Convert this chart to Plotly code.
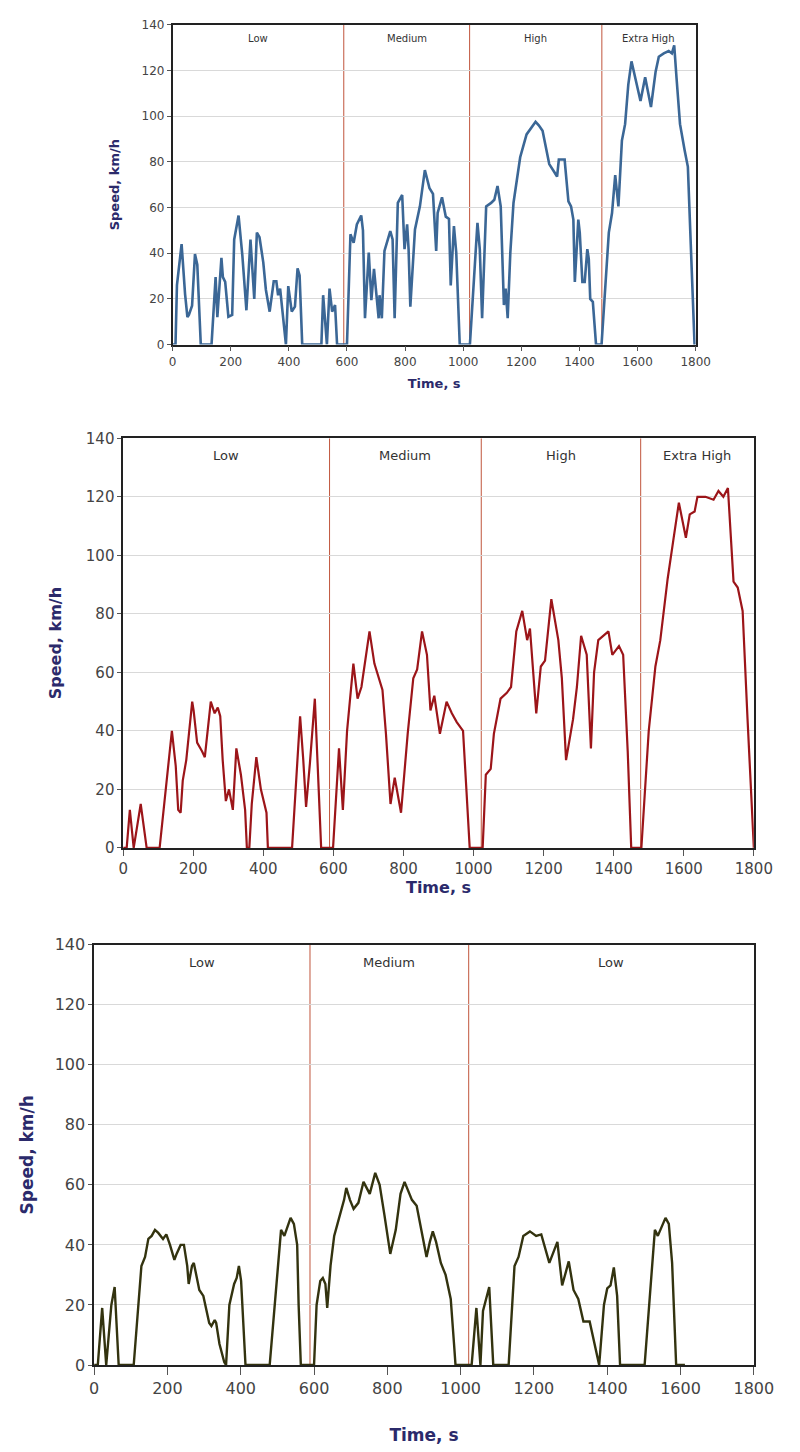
import plotly.graph_objects as go

# ---- Cycle 1 (blue): Low / Medium / High / Extra High ----
c1_time = [0, 10, 15, 31, 43, 51, 56, 67, 77, 85, 97, 134, 148, 154, 168, 173, 181, 192, 205,
           212, 227, 240, 254, 268, 281, 290, 299, 312, 321, 334, 348, 357, 363, 370, 377, 390,
           398, 410, 421, 430, 437, 446, 512, 518, 531, 540, 549, 559, 566, 600, 612, 623, 634,
           649, 655, 662, 675, 684, 693, 701, 709, 712, 720, 729, 749, 757, 764, 775, 790, 798,
           807, 812, 818, 834, 851, 868, 884, 896, 907, 912, 927, 940, 951, 957, 968, 976, 988,
           1023, 1049, 1057, 1065, 1079, 1096, 1107, 1118, 1129, 1140, 1146, 1153, 1162, 1173,
           1196, 1218, 1249, 1260, 1273, 1296, 1316, 1323, 1329, 1349, 1351, 1362, 1371, 1379,
           1384, 1396, 1401, 1410, 1418, 1427, 1432, 1437, 1446, 1457, 1476, 1501, 1512, 1523,
           1534, 1546, 1557, 1568, 1579, 1590, 1610, 1626, 1646, 1662, 1673, 1690, 1707, 1718,
           1726, 1734, 1746, 1762, 1773, 1784, 1796, 1800]
c1_speed = [0, 0, 26, 44, 22, 12, 13, 17, 39.6, 35, 0, 0, 29.5, 12, 38, 29.5, 27.4, 12.2, 13,
            46, 56.5, 39, 15, 46, 20, 49, 47, 36, 24, 14.4, 27.7, 27.7, 21.6, 24.5, 15.8, 0,
            25.6, 14.4, 16.6, 33.4, 30.3, 0, 0, 21.6, 0, 24.5, 14.4, 17.3, 0, 0, 48.3, 44.6, 52.6,
            56.5, 50, 11.5, 40.3, 19.4, 33.1, 21.6, 11.5, 21.6, 11.5, 41, 49.7, 46, 11.5, 62, 65.5,
            41.8, 52.6, 41.8, 16.6, 50.4, 60.5, 76.4, 68.4, 66, 41, 57.6, 64.5, 56, 55, 25.9, 51.9,
            40.3, 0, 0, 53.3, 41.8, 11.5, 60.5, 62, 63.4, 69.4, 60.5, 17.3, 24.5, 11.5, 40, 62,
            82, 92, 97.5, 96, 93.6, 79, 75, 73.5, 81, 81, 78, 62.7, 60.5, 54.7,
            27.4, 54.7, 49, 27.4, 27.4, 41.8, 37.5, 20, 18.7, 0, 0, 49, 57.6, 74.2,
            60.5, 89.3, 96.5, 113.8, 124, 118, 106.6, 117, 104, 119.5, 126, 127.5, 128.5, 127.5,
            131, 116.7, 96.5, 85, 77.8, 40.3, 0, 0]

# ---- Cycle 2 (red): Low / Medium / High / Extra High ----
c2_time = [0, 10, 19, 30, 50, 67, 104, 139, 150, 157, 164, 170, 180, 197, 201, 211, 225, 233,
           250, 261, 270, 277, 284, 293, 302, 313, 323, 336, 348, 353, 360, 367, 380, 393, 409,
           413, 482, 505, 514, 522, 533, 547, 558, 565, 599, 616, 627, 639, 657, 669, 680, 703,
           717, 740, 750, 763, 775, 793, 812, 828, 839, 853, 867, 877, 888, 904, 923, 938, 952,
           970, 980, 989, 1026, 1035, 1049, 1058, 1077, 1095, 1107, 1122, 1139, 1153, 1161, 1179,
           1192, 1204, 1222, 1242, 1252, 1264, 1284, 1295, 1307, 1323, 1335, 1344, 1356, 1385,
           1396, 1415, 1427, 1440, 1450, 1479, 1500, 1519, 1533, 1554, 1570, 1586, 1606, 1617,
           1631, 1639, 1662, 1685, 1699, 1713, 1726, 1742, 1754, 1768, 1782, 1800]
c2_speed = [0, 0, 13, 0, 15, 0, 0, 40, 28, 13, 12, 23, 30, 50, 47, 36, 33, 31,
            50, 46, 48, 45, 30, 16, 20, 13, 34, 25, 13, 0, 0, 15, 31, 20, 12,
            0, 0, 45, 30, 14, 29, 51, 20, 0, 0, 34, 13, 40, 63, 51, 55, 74,
            63, 54, 39, 15, 24, 12, 39, 58, 61, 74, 66, 47, 52, 39, 50, 46, 43,
            40, 19, 0, 0, 25, 27, 39, 51, 53, 55, 74, 81, 71, 75, 46,
            62, 64, 85, 71, 58, 30, 44, 55, 72.5, 66, 34, 60, 71, 74,
            66, 69, 66, 33, 0, 0, 40, 62, 71, 92, 105, 118, 106, 114,
            115, 120, 120, 119, 122, 120, 123, 91, 89, 81, 44, 0]

# ---- Cycle 3 (olive): Low / Medium / Low ----
c3_time = [0, 10, 22, 33, 47, 56, 67, 108, 129, 139, 148, 157, 166, 175, 188, 197, 207, 219,
           225, 236, 245, 254, 258, 267, 272, 279, 287, 298, 307, 314, 320, 329, 333, 342, 355,
           360, 369, 382, 389, 395, 401, 413, 479, 510, 519, 525, 536, 545, 554, 558, 564, 600,
           607, 617, 624, 631, 636, 645, 655, 664, 673, 682, 688, 698, 708, 721, 735, 752, 767,
           779, 792, 803, 808, 823, 836, 847, 858, 867, 880, 893, 907, 916, 924, 933, 946, 959,
           973, 982, 986, 1030, 1043, 1054, 1061, 1078, 1089, 1131, 1147, 1158, 1171, 1189, 1206,
           1220, 1242, 1264, 1277, 1295, 1308, 1321, 1335, 1352, 1365, 1378, 1391, 1400, 1409,
           1418, 1427, 1435, 1502, 1530, 1538, 1546, 1559, 1568, 1577, 1588, 1612]
c3_speed = [0, 0, 19, 0, 20, 26, 0, 0, 33, 36, 42, 43, 45, 44, 42, 43.5, 40, 35,
            37, 40, 40, 33, 27, 33, 34, 30, 25, 23, 18, 14, 13, 15, 14, 7, 1,
            0, 20, 27, 29, 33, 28, 0, 0, 45, 43, 45, 49, 47, 40, 20, 0, 0,
            20, 28, 29, 27, 19, 33, 43, 47, 51, 55, 59, 55, 52, 54, 61, 57, 64,
            60, 50, 40, 37, 45, 57, 61, 58, 55, 53, 45, 36, 41, 44.5, 41, 34, 30,
            22, 7, 0, 0, 19, 0, 18, 26, 0, 0, 33, 36, 43, 44.5, 43,
            43.5, 34, 41, 26.5, 34.5, 25, 22, 14.5, 14.5, 7, 0, 20, 25.5, 26.5,
            32.5, 23, 0, 0, 45, 43, 45.5, 49, 47, 34, 0, 0]

# Phase boundaries (s) and names for each cycle
c1_bounds = [0, 589, 1022, 1477, 1800]
c1_phases = ["Low", "Medium", "High", "Extra High"]
c2_bounds = [0, 589, 1022, 1477, 1800]
c2_phases = ["Low", "Medium", "High", "Extra High"]
c3_bounds = [0, 589, 1022, 1800]
c3_phases = ["Low", "Medium", "Low"]

y_ticks = [0, 20, 40, 60, 80, 100, 120, 140]
x_ticks = [0, 200, 400, 600, 800, 1000, 1200, 1400, 1600, 1800]

W, H = 800, 1452
FONT = "DejaVu Sans, Verdana, sans-serif"
TITLE_COLOR = "#2b2a6b"
TICK_COLOR = "#444444"
DIVIDER = "#c0553c"

panels = [
    dict(t=c1_time, v=c1_speed, bounds=c1_bounds, phases=c1_phases, color="#3b6796", width=2.6,
         px=(173, 713), py=(16, 340), tick=12, title=13, label=10, xtl=5,
         xstand=11, ystand=19),
    dict(t=c2_time, v=c2_speed, bounds=c2_bounds, phases=c2_phases, color="#9c1519", width=2.2,
         px=(122, 773), py=(435, 850), tick=15, title=16, label=13, xtl=6,
         xstand=0, ystand=20),
    dict(t=c3_time, v=c3_speed, bounds=c3_bounds, phases=c3_phases, color="#33330f", width=2.4,
         px=(92, 773), py=(948, 1374), tick=16, title=17, label=13, xtl=8,
         xstand=32, ystand=17),
]

fig = go.Figure()
layout = dict(width=W, height=H, margin=dict(l=0, r=0, t=0, b=0),
              paper_bgcolor="white", plot_bgcolor="white", showlegend=False,
              font=dict(family=FONT, color=TICK_COLOR))
shapes, annotations = [], []

for i, p in enumerate(panels, start=1):
    sfx = "" if i == 1 else str(i)
    xa, ya = "x" + sfx, "y" + sfx
    fig.add_trace(go.Scatter(x=p["t"], y=p["v"], mode="lines", xaxis=xa, yaxis=ya,
                             line=dict(color=p["color"], width=p["width"]),
                             hoverinfo="x+y"))
    xdom = [p["px"][0] / W, p["px"][1] / W]
    ydom = [1 - p["py"][1] / H, 1 - p["py"][0] / H]
    layout["xaxis" + sfx] = dict(
        domain=xdom, anchor=ya, range=[0, 1800], tickvals=x_ticks,
        ticks="outside", ticklen=p["xtl"], tickcolor="#555", showgrid=False, zeroline=False,
        showline=True, linecolor="#222", linewidth=1.5, mirror=True,
        tickfont=dict(size=p["tick"], color=TICK_COLOR, family=FONT),
        title=dict(text="<b>Time, s</b>", standoff=p["xstand"],
                   font=dict(size=p["title"], color=TITLE_COLOR, family=FONT)))
    layout["yaxis" + sfx] = dict(
        domain=ydom, anchor=xa, range=[0, 140], tickvals=y_ticks,
        ticks="outside", ticklen=4, tickcolor="#555", showgrid=True, gridcolor="#d9d9d9",
        gridwidth=1, zeroline=False, showline=True, linecolor="#222", linewidth=1.5,
        mirror=True, tickfont=dict(size=p["tick"], color=TICK_COLOR, family=FONT),
        title=dict(text="<b>Speed, km/h</b>", standoff=p["ystand"],
                   font=dict(size=p["title"], color=TITLE_COLOR, family=FONT)))
    b = p["bounds"]
    for xb in b[1:-1]:
        shapes.append(dict(type="line", xref=xa, yref=ya, x0=xb, x1=xb, y0=0, y1=140,
                           line=dict(color=DIVIDER, width=1), layer="below"))
    for k, name in enumerate(p["phases"]):
        annotations.append(dict(x=(b[k] + b[k + 1]) / 2, y=134, xref=xa, yref=ya,
                                text=name, showarrow=False,
                                font=dict(size=p["label"], color="#333", family=FONT)))

layout["shapes"] = shapes
layout["annotations"] = annotations
fig.update_layout(**layout)
fig.write_html("out.html")
